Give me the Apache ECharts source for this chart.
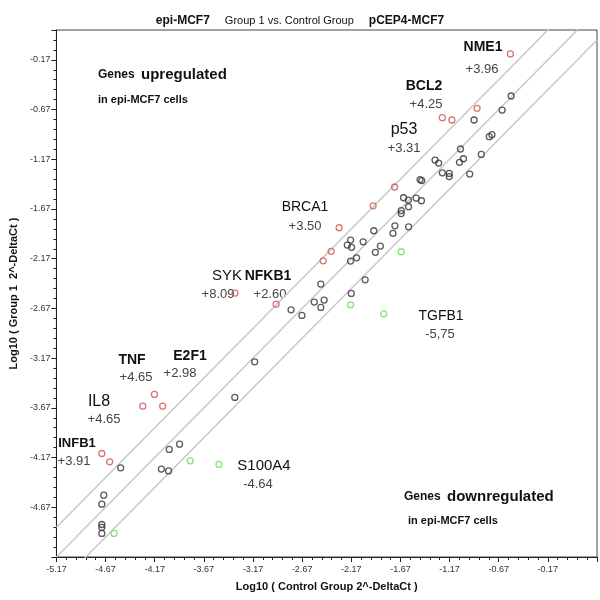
<!DOCTYPE html>
<html><head><meta charset="utf-8">
<script src="https://cdn.jsdelivr.net/npm/echarts@6/dist/echarts.min.js"></script>
<style>html,body{margin:0;padding:0;background:#fff}#c{width:600px;height:600px}</style>
</head><body><div id="c"></div>
<script>
// Axis ranges (log10 units)
const xMin = -5.17, xMax = 0.33, yMin = -5.17, yMax = 0.13;
const tickStep = 0.5;
// Boundary lines: y = x + offset (2-fold thresholds)
const lineOffsets = [0.3, 0, -0.3];

// Up-regulated genes (red)
const upX = [-0.551, -0.890, -1.244, -1.147, -1.729, -1.948, -2.294, -2.375, -2.456, -2.935, -3.352, -4.173, -4.291, -4.089, -4.708, -4.628];
const upY = [-0.111, -0.658, -0.752, -0.775, -1.449, -1.638, -1.859, -2.096, -2.191, -2.627, -2.516, -3.535, -3.653, -3.653, -4.129, -4.213];
// Down-regulated genes (green)
const downX = [-1.662, -2.177, -1.840, -3.809, -3.516, -4.584];
const downY = [-2.100, -2.634, -2.724, -4.203, -4.239, -4.933];
// Unchanged genes (black)
const sameX = [-0.544, -0.635, -0.921, -0.766, -0.739, -1.059, -1.029, -1.069, -0.847, -1.318, -1.281, -1.244, -1.173, -1.173, -0.965,
  -1.470, -1.453, -1.638, -1.589, -1.510, -1.456, -1.587, -1.662, -1.662, -1.726, -1.587, -1.746, -1.941, -2.177, -2.210,
  -2.167, -2.049, -1.874, -1.925, -2.116, -2.177, -2.029, -2.480, -2.170, -2.547, -2.446, -2.480, -2.783, -2.672, -3.153,
  -3.355, -3.917, -4.022, -4.102, -4.029, -4.516, -4.688, -4.708, -4.708, -4.708, -4.708];
const sameY = [-0.534, -0.675, -0.775, -0.943, -0.923, -1.067, -1.165, -1.201, -1.121, -1.178, -1.208, -1.306, -1.312, -1.344, -1.319,
  -1.374, -1.384, -1.557, -1.580, -1.560, -1.587, -1.648, -1.686, -1.716, -1.839, -1.849, -1.915, -1.889, -1.983, -2.033,
  -2.056, -2.000, -2.043, -2.106, -2.161, -2.194, -2.382, -2.425, -2.519, -2.606, -2.586, -2.660, -2.684, -2.740, -3.207,
  -3.565, -4.035, -4.088, -4.286, -4.304, -4.273, -4.548, -4.639, -4.843, -4.873, -4.933];

// Gene annotations: name, fold regulation
const geneNames = ['NME1', 'BCL2', 'p53', 'BRCA1', 'SYK', 'NFKB1', 'TNF', 'E2F1', 'IL8', 'INFB1', 'S100A4', 'TGFB1'];
const geneFolds = ['+3.96', '+4.25', '+3.31', '+3.50', '+8.09', '+2.60', '+4.65', '+2.98', '+4.65', '+3.91', '-4.64', '-5,75'];
// label layout (pixel centers) and name font sizes
const geneNamePos = [[483,47],[424,86],[404,130],[305,207],[227,276],[268,276],[132,360],[190,356],[99,402],[77,443],[264,466],[441,316]];
const geneFoldPos = [[482,69],[426,104],[404,148],[305,226],[218,294],[270,294],[136,377],[180,373],[104,419],[74,461],[258,484],[440,334]];
const geneNameSize = [14,14,16,14,15,14,14,14,16,13,15,14];
const geneNameBold = [true,true,false,false,false,true,true,true,false,true,false,false];

const zip = (a, b) => a.map((v, i) => [v, b[i]]);
const FONT = 'Liberation Sans, Arial, sans-serif';

const chart = echarts.init(document.getElementById('c'));

const lineSeries = lineOffsets.map(c => ({
  type: 'line', data: [[xMin, xMin + c], [xMax, xMax + c]], symbol: 'none', clip: true, silent: true,
  lineStyle: { color: '#c8c8c8', width: 1.5 }, z: 1
}));
const scat = (d, col) => ({
  type: 'scatter', data: d, symbol: 'circle', symbolSize: 6,
  itemStyle: { color: 'rgba(255,255,255,0)', borderColor: col, borderWidth: 1.3 }, z: 3
});

const texts = [];
geneNames.forEach((n, i) => {
  texts.push({ type: 'text', x: geneNamePos[i][0], y: geneNamePos[i][1],
    style: { text: n, font: (geneNameBold[i] ? 'bold ' : '') + geneNameSize[i] + 'px ' + FONT, fill: '#111', align: 'center', verticalAlign: 'middle' } });
  texts.push({ type: 'text', x: geneFoldPos[i][0], y: geneFoldPos[i][1],
    style: { text: geneFolds[i], font: '13px ' + FONT, fill: '#444', align: 'center', verticalAlign: 'middle' } });
});
// region captions
texts.push({ type: 'text', x: 98, y: 75, style: { text: 'Genes', font: 'bold 12px ' + FONT, fill: '#111', verticalAlign: 'middle' } });
texts.push({ type: 'text', x: 141, y: 75, style: { text: 'upregulated', font: 'bold 15px ' + FONT, fill: '#111', verticalAlign: 'middle' } });
texts.push({ type: 'text', x: 98, y: 100, style: { text: 'in epi-MCF7 cells', font: 'bold 11px ' + FONT, fill: '#111', verticalAlign: 'middle' } });
texts.push({ type: 'text', x: 404, y: 497, style: { text: 'Genes', font: 'bold 12px ' + FONT, fill: '#111', verticalAlign: 'middle' } });
texts.push({ type: 'text', x: 447, y: 497, style: { text: 'downregulated', font: 'bold 15px ' + FONT, fill: '#111', verticalAlign: 'middle' } });
texts.push({ type: 'text', x: 408, y: 521, style: { text: 'in epi-MCF7 cells', font: 'bold 11px ' + FONT, fill: '#111', verticalAlign: 'middle' } });

const axisCommon = {
  type: 'value', interval: tickStep,
  axisLine: { show: true, onZero: false, lineStyle: { color: '#222', width: 1 } },
  axisTick: { show: true, length: 5, lineStyle: { color: '#222' } },
  minorTick: { show: true, splitNumber: 5, length: 3, lineStyle: { color: '#222' } },
  splitLine: { show: false },
  axisLabel: { formatter: v => v.toFixed(2), fontSize: 9, color: '#333', fontFamily: FONT },
  nameLocation: 'middle',
  nameTextStyle: { fontSize: 11, fontWeight: 'bold', color: '#111', fontFamily: FONT }
};

chart.setOption({
  animation: false,
  title: {
    text: '{a|epi-MCF7}   {b|Group 1 vs. Control Group}   {a|pCEP4-MCF7}',
    left: 'center', top: 7,
    textStyle: { fontWeight: 'normal', rich: {
      a: { fontSize: 12, fontWeight: 'bold', color: '#111', fontFamily: FONT },
      b: { fontSize: 11, fontWeight: 'normal', color: '#111', fontFamily: FONT }
    } }
  },
  grid: { left: 52, right: 3, top: 30, bottom: 43, show: true, borderColor: '#444', borderWidth: 1 },
  xAxis: Object.assign({}, axisCommon, {
    min: xMin, max: xMax, name: 'Log10 ( Control Group 2^-DeltaCt )', nameGap: 24,
    axisLabel: Object.assign({}, axisCommon.axisLabel, { showMaxLabel: false, margin: 8 })
  }),
  yAxis: Object.assign({}, axisCommon, {
    min: yMin, max: yMax, name: 'Log10 ( Group 1  2^-DeltaCt )', nameGap: 30,
    axisLabel: Object.assign({}, axisCommon.axisLabel, { showMinLabel: false, showMaxLabel: false, margin: 6 })
  }),
  series: [
    ...lineSeries,
    scat(zip(sameX, sameY), '#333'),
    scat(zip(upX, upY), '#d05555'),
    scat(zip(downX, downY), '#66dd55')
  ],
  graphic: texts
});
</script></body></html>
